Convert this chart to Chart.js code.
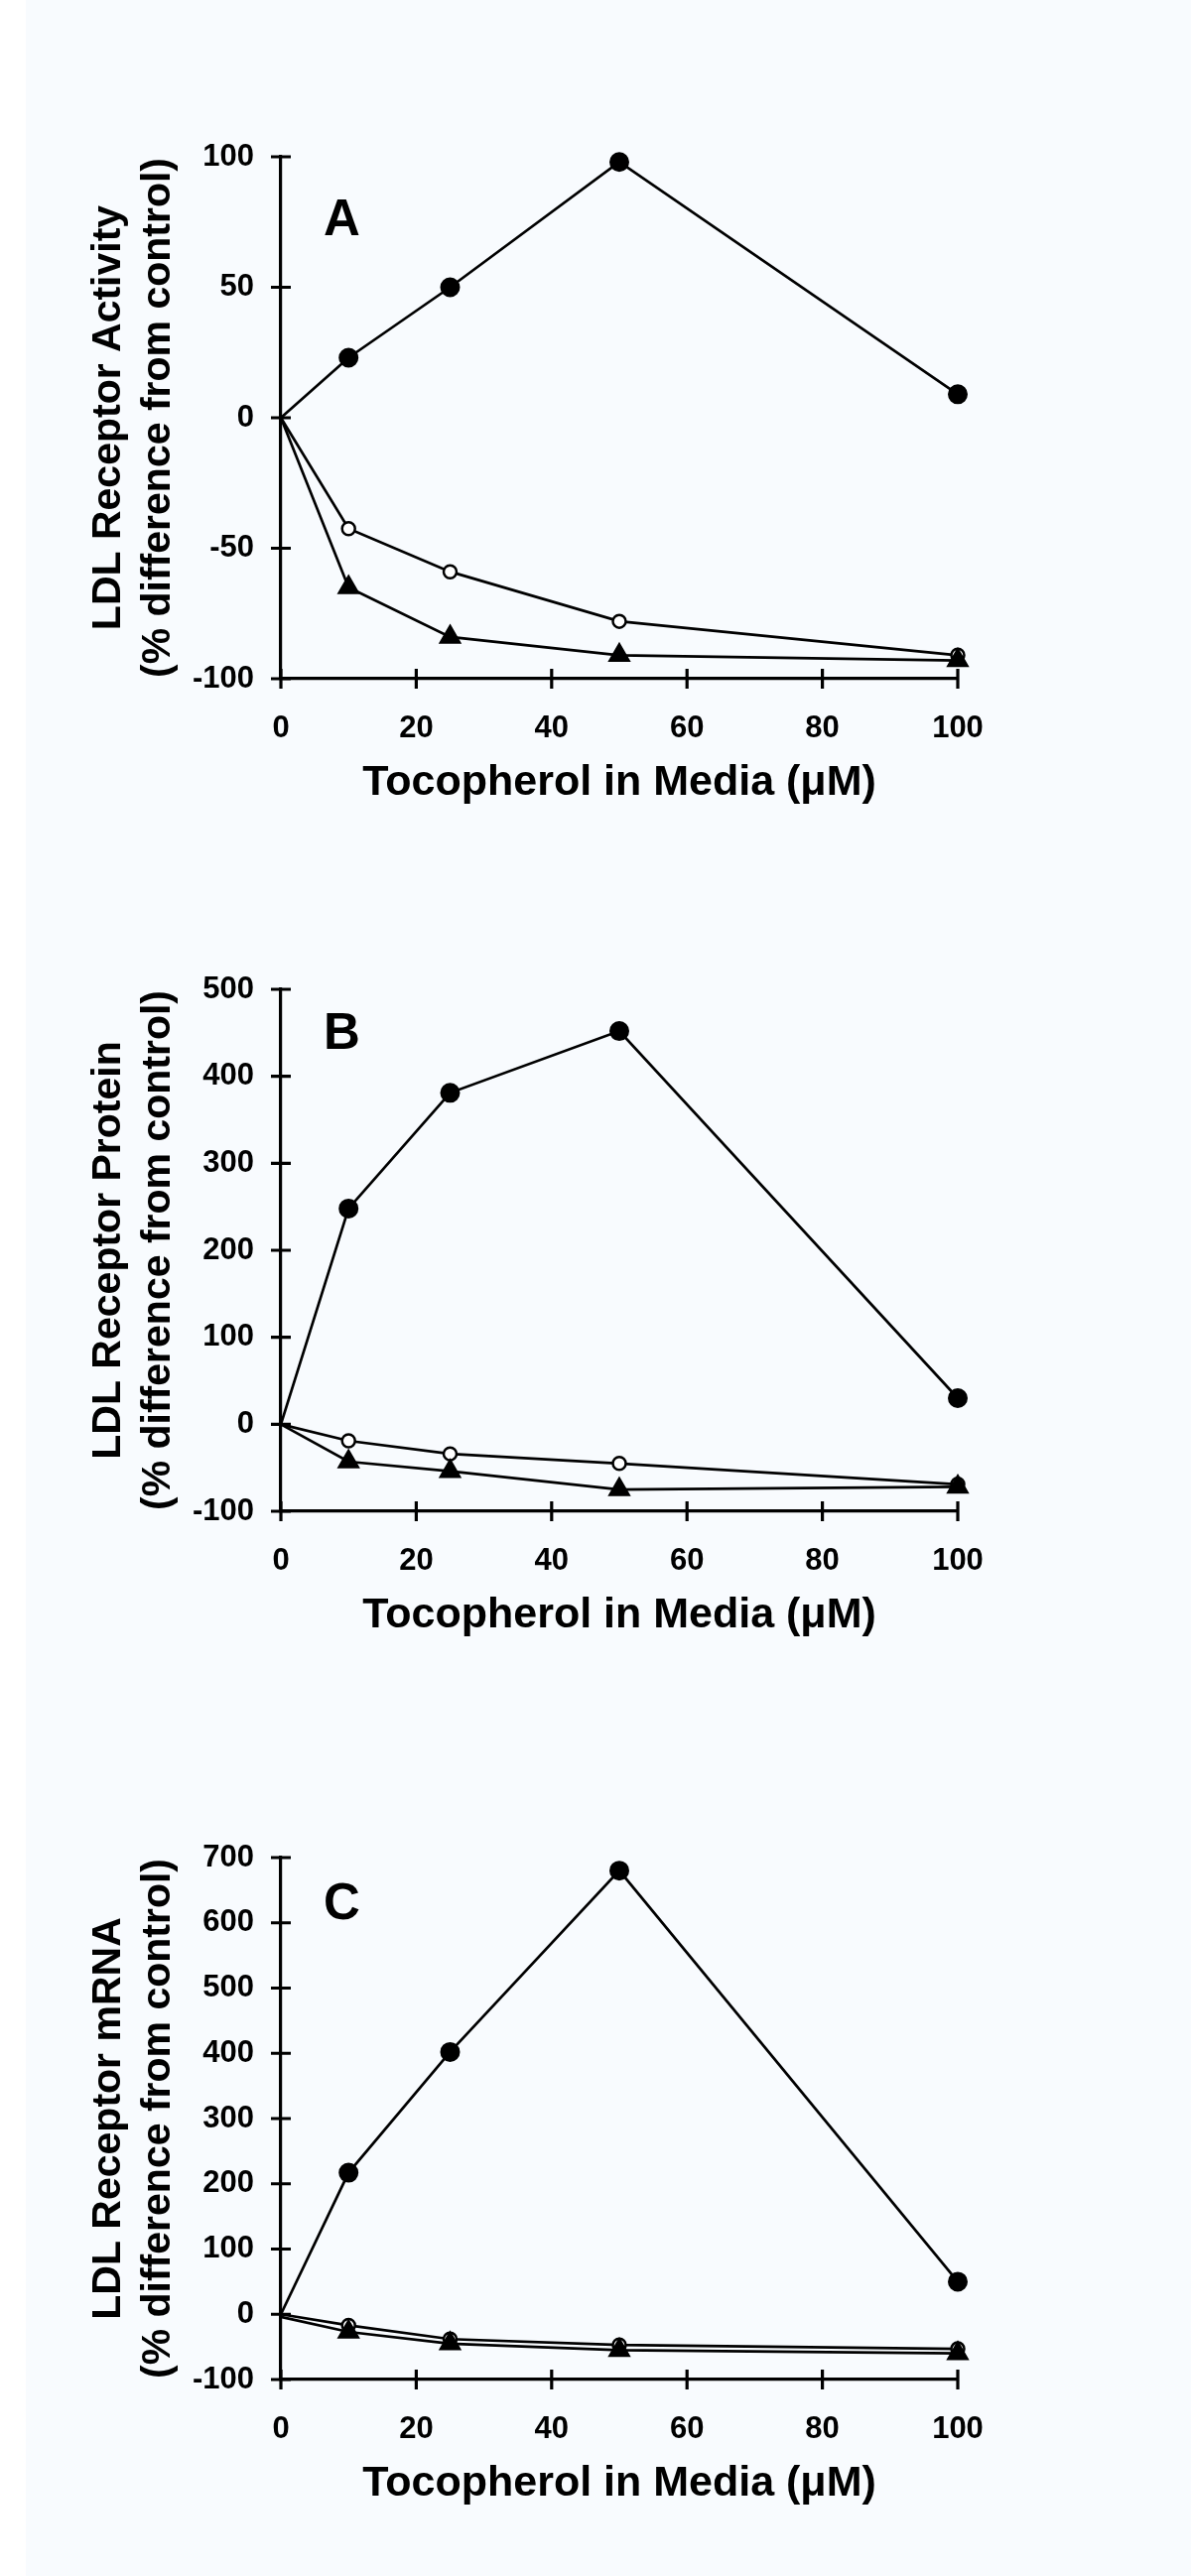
<!doctype html>
<html lang="en">
<head>
<meta charset="UTF-8">
<title>LDL receptor vs tocopherol</title>
<style>
  html, body { margin:0; padding:0; }
  body { width:1200px; height:2596px; background:#f8fbfe; position:relative; overflow:hidden; }
  .strip { position:absolute; left:0; top:0; width:26px; height:2596px; background:#ffffff; }
  .panel { position:absolute; left:0; width:1200px; height:830px; }
</style>
</head>
<body>
<div class="strip"></div>
<div class="panel" style="top:0px"><canvas id="chartA"></canvas></div>
<div class="panel" style="top:839px"><canvas id="chartB"></canvas></div>
<div class="panel" style="top:1714px"><canvas id="chartC"></canvas></div>

<script src="https://cdn.jsdelivr.net/npm/chart.js@4.4.0/dist/chart.umd.min.js"></script>
<script>
// tocopherol concentrations (uM), shared by all three panels
var tocopherol = [0, 10, 25, 50, 100];
var xTicks = [0, 20, 40, 60, 80, 100];

// A - LDL receptor activity
var activityFilled = [0, 23, 50, 98, 9];
var activityOpen   = [0, -42.5, -59, -78, -91];
var activityTri    = [0, -65, -84, -91, -93];
var activityTicks  = [-100, -50, 0, 50, 100];

// B - LDL receptor protein
var proteinFilled = [0, 248, 381, 452, 30];
var proteinOpen   = [0, -19, -34, -45, -69];
var proteinTri    = [0, -43, -54, -75, -72];
var proteinTicks  = [-100, 0, 100, 200, 300, 400, 500];

// C - LDL receptor mRNA
var mrnaFilled = [0, 217, 402, 680, 50];
var mrnaOpen   = [0, -17, -38, -47, -53];
var mrnaTri    = [-4, -27, -45, -55, -60];
var mrnaTicks  = [-100, 0, 100, 200, 300, 400, 500, 600, 700];

var FONT = '"Liberation Sans", Arial, Helvetica, sans-serif';

function pts(vals) {
  return tocopherol.map(function(x, i) { return {x: x, y: vals[i]}; });
}

// ticks that cross the axis line + the panel letter
var crossTicks = {
  id: 'crossTicks',
  beforeDatasetsDraw: function(chart) {
    var ctx = chart.ctx, area = chart.chartArea;
    var xs = chart.scales.x, ys = chart.scales.y;
    ctx.save();
    ctx.strokeStyle = '#000';
    ctx.lineWidth = 3.2;
    ctx.beginPath();
    ys.ticks.forEach(function(t) {
      var py = ys.getPixelForValue(t.value);
      ctx.moveTo(area.left - 10, py);
      ctx.lineTo(area.left + 10, py);
    });
    xs.ticks.forEach(function(t) {
      var px = xs.getPixelForValue(t.value);
      ctx.moveTo(px, area.bottom - 10);
      ctx.lineTo(px, area.bottom + 10);
    });
    ctx.stroke();

    var o = chart.options.plugins.crossTicks;
    ctx.fillStyle = '#000';
    ctx.font = 'bold 51px ' + FONT;
    ctx.textBaseline = 'alphabetic';
    ctx.textAlign = 'left';
    ctx.fillText(o.letter, area.left + 43, area.top + o.letterY);
    ctx.restore();
  }
};

function makePanel(id, letter, letterY, yTitle, yTicks, filled, open, tri) {
  var line = {borderColor: '#000', borderWidth: 2.7, tension: 0, fill: false, clip: false};
  new Chart(document.getElementById(id), {
    type: 'line',
    data: {
      datasets: [
        Object.assign({label: 'filled', data: pts(filled), order: 2,
          pointStyle: 'circle', backgroundColor: '#000', pointBorderColor: '#000',
          pointRadius: function(c) { return c.dataIndex === 0 ? 0 : 9; }, pointBorderWidth: 2}, line),
        Object.assign({label: 'open', data: pts(open), order: 1,
          pointStyle: 'circle', backgroundColor: '#fff', pointBorderColor: '#000',
          pointRadius: function(c) { return c.dataIndex === 0 ? 0 : 6.5; }, pointBorderWidth: 2.5}, line),
        Object.assign({label: 'tri', data: pts(tri), order: 0,
          pointStyle: 'triangle', backgroundColor: '#000', pointBorderColor: '#000',
          pointRadius: function(c) { return c.dataIndex === 0 ? 0 : 12; }, pointBorderWidth: 1.5}, line)
      ]
    },
    options: {
      responsive: true,
      maintainAspectRatio: false,
      animation: false,
      devicePixelRatio: 1,
      layout: { padding: {top: 158, right: 235, left: 0, bottom: 0} },
      plugins: {
        legend: { display: false },
        tooltip: { enabled: false },
        crossTicks: { letter: letter, letterY: letterY }
      },
      scales: {
        x: {
          type: 'linear',
          min: 0, max: 100,
          afterBuildTicks: function(s) { s.ticks = xTicks.map(function(v) { return {value: v}; }); },
          afterFit: function(s) { s.height = 146; },
          grid: { display: false, drawTicks: false },
          border: { display: true, color: '#000', width: 3.2 },
          ticks: { color: '#000', padding: 32, autoSkip: false, maxRotation: 0,
                   font: {family: FONT, size: 31, weight: 'bold'} },
          title: { display: true, text: 'Tocopherol in Media (\u03bcM)', color: '#000',
                   padding: {top: 0, bottom: 15},
                   font: {family: FONT, size: 43, weight: 'bold', lineHeight: 1.2} }
        },
        y: {
          min: yTicks[0], max: yTicks[yTicks.length - 1],
          afterBuildTicks: function(s) { s.ticks = yTicks.map(function(v) { return {value: v}; }); },
          afterFit: function(s) { s.width = 283; },
          grid: { display: false, drawTicks: false },
          border: { display: true, color: '#000', width: 3.2 },
          ticks: { color: '#000', padding: 27, autoSkip: false,
                   font: {family: FONT, size: 31, weight: 'bold'} },
          title: { display: true, text: [yTitle, '(% difference from control)'], color: '#000',
                   padding: {top: 84, bottom: 0},
                   font: {family: FONT, size: 41, weight: 'bold', lineHeight: 1.23} }
        }
      }
    },
    plugins: [crossTicks]
  });
}

makePanel('chartA', 'A', 79, 'LDL Receptor Activity', activityTicks, activityFilled, activityOpen, activityTri);
makePanel('chartB', 'B', 60, 'LDL Receptor Protein', proteinTicks, proteinFilled, proteinOpen, proteinTri);
makePanel('chartC', 'C', 62, 'LDL Receptor mRNA', mrnaTicks, mrnaFilled, mrnaOpen, mrnaTri);
</script>
</body>
</html>
